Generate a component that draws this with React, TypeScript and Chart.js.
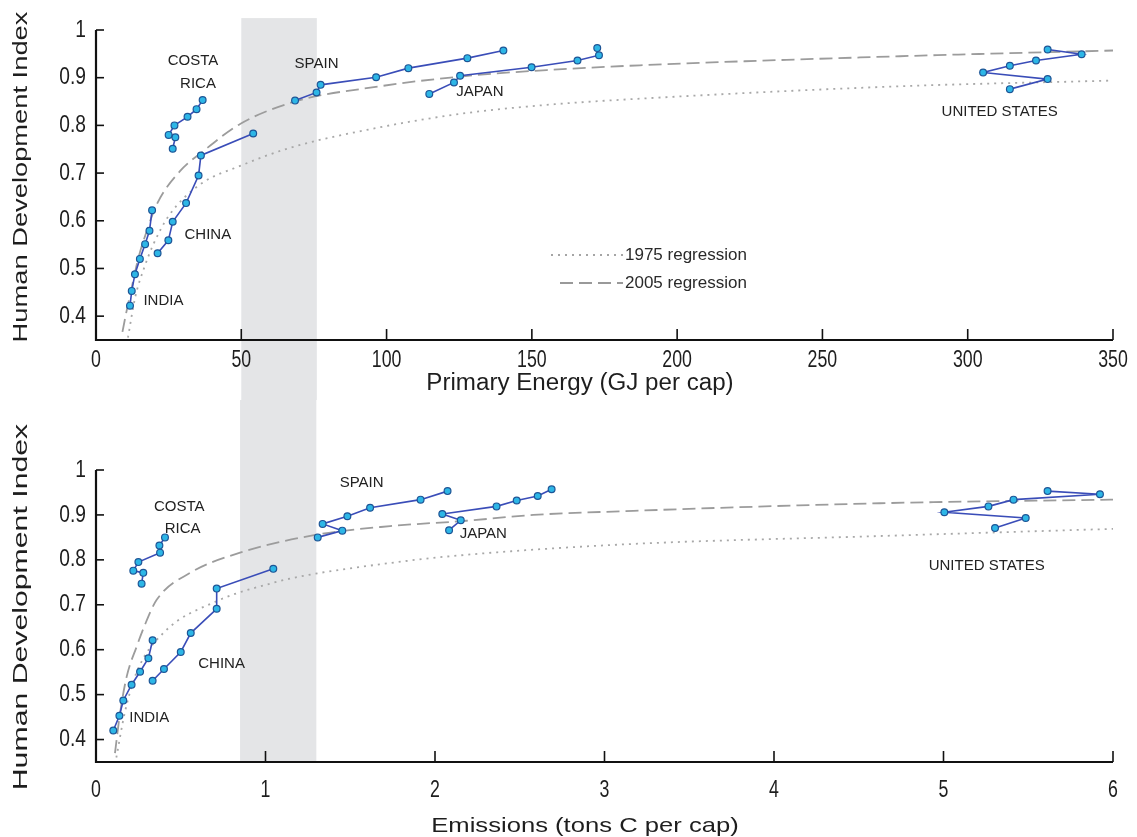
import React, { useEffect, useRef } from 'react';
import { Chart, registerables } from 'chart.js';

Chart.register(...registerables);

type Pt = [number, number];

// ---------- TOP PANEL: Primary energy (GJ per cap) vs HDI ----------
const indiaEnergy: Pt[] = [[11.7, 0.422], [12.3, 0.453], [13.4, 0.488], [15.1, 0.52], [16.9, 0.551], [18.4, 0.579], [19.3, 0.622]];
const chinaEnergy: Pt[] = [[21.2, 0.532], [24.9, 0.559], [26.4, 0.598], [31.0, 0.637], [35.3, 0.695], [36.1, 0.737], [54.1, 0.783]];
const costaRicaEnergy: Pt[] = [[26.4, 0.751], [27.3, 0.775], [25.0, 0.78], [27.0, 0.8], [31.5, 0.818], [34.6, 0.834], [36.7, 0.853]];
const spainEnergy: Pt[] = [[68.5, 0.852], [75.9, 0.869], [77.3, 0.885], [96.4, 0.901], [107.5, 0.92], [127.8, 0.941], [140.2, 0.957]];
const japanEnergy: Pt[] = [[114.7, 0.866], [123.2, 0.89], [125.3, 0.904], [149.9, 0.922], [165.7, 0.936], [173.1, 0.947], [172.5, 0.962]];
const usEnergy: Pt[] = [[314.5, 0.876], [327.5, 0.897], [305.3, 0.911], [314.5, 0.925], [323.5, 0.936], [339.2, 0.949], [327.5, 0.959]];

const reg1975Energy: Pt[] = [[11, 0.355], [13.5, 0.44], [16.5, 0.5], [19.7, 0.55], [25, 0.61], [35.8, 0.676], [49.6, 0.715], [66.8, 0.753], [97.7, 0.796], [126.4, 0.825], [155.1, 0.843], [187.2, 0.856], [276.7, 0.882], [350, 0.894]];
const reg2005Energy: Pt[] = [[9.1, 0.367], [10.5, 0.41], [12.3, 0.46], [14.5, 0.52], [17, 0.57], [20.9, 0.634], [28.9, 0.704], [36.9, 0.746], [49.6, 0.803], [68.5, 0.85], [97.7, 0.882], [126.4, 0.903], [155.1, 0.916], [187.2, 0.926], [276.7, 0.945], [350, 0.957]];

// ---------- BOTTOM PANEL: Emissions (tons C per cap) vs HDI ----------
const indiaCarbon: Pt[] = [[0.102, 0.42], [0.138, 0.453], [0.161, 0.487], [0.21, 0.522], [0.26, 0.551], [0.309, 0.581], [0.334, 0.621]];
const chinaCarbon: Pt[] = [[0.334, 0.531], [0.401, 0.557], [0.5, 0.595], [0.559, 0.637], [0.712, 0.691], [0.712, 0.736], [1.046, 0.78]];
const costaRicaCarbon: Pt[] = [[0.269, 0.747], [0.279, 0.771], [0.22, 0.776], [0.25, 0.795], [0.378, 0.816], [0.374, 0.832], [0.407, 0.85]];
const spainCarbon: Pt[] = [[1.308, 0.85], [1.453, 0.865], [1.337, 0.88], [1.483, 0.897], [1.617, 0.916], [1.915, 0.934], [2.074, 0.953]];
const japanCarbon: Pt[] = [[2.083, 0.866], [2.152, 0.888], [2.043, 0.902], [2.363, 0.919], [2.482, 0.932], [2.606, 0.942], [2.688, 0.957]];
const usCarbon: Pt[] = [[5.304, 0.871], [5.485, 0.893], [5.005, 0.906], [5.265, 0.919], [5.413, 0.934], [5.923, 0.946], [5.614, 0.953]];

const reg1975Carbon: Pt[] = [[0.12, 0.36], [0.17, 0.46], [0.24, 0.55], [0.397, 0.637], [0.712, 0.708], [1.046, 0.749], [1.204, 0.763], [1.735, 0.793], [2.088, 0.808], [3.091, 0.834], [4.625, 0.853], [6.0, 0.869]];
const reg2005Carbon: Pt[] = [[0.112, 0.37], [0.142, 0.459], [0.181, 0.54], [0.24, 0.607], [0.289, 0.656], [0.358, 0.711], [0.555, 0.771], [0.85, 0.816], [1.302, 0.856], [1.735, 0.875], [2.186, 0.887], [2.58, 0.9], [3.091, 0.908], [4.625, 0.926], [6.0, 0.934]];

// ---------- Axes / annotations ----------
const energyTicks = [0, 50, 100, 150, 200, 250, 300, 350];
const emissionTicks = [0, 1, 2, 3, 4, 5, 6];
const hdiTicks = [0.4, 0.5, 0.6, 0.7, 0.8, 0.9, 1];
const hdiTickLabels = ['0.4', '0.5', '0.6', '0.7', '0.8', '0.9', '1'];
const energyBand = [50, 76];
const emissionBand = [0.85, 1.3];

const countryNames = ['INDIA', 'CHINA', 'COSTA', 'RICA', 'SPAIN', 'JAPAN', 'UNITED STATES'];
const energyLabelX = [23.2, 38.5, 33.4, 35.1, 75.9, 132.1, 311.0];
const energyLabelY = [0.432, 0.571, 0.935, 0.887, 0.93, 0.871, 0.829];
const carbonLabelX = [0.314, 0.741, 0.491, 0.511, 1.567, 2.285, 5.255];
const carbonLabelY = [0.449, 0.569, 0.919, 0.869, 0.972, 0.857, 0.786];

const legendLabels = ['1975 regression', '2005 regression'];

const FONT = '"Liberation Sans", Arial, Helvetica, sans-serif';

function txt(
  ctx: CanvasRenderingContext2D,
  s: string,
  x: number,
  y: number,
  size: number,
  o: { sx?: number; align?: CanvasTextAlign; rot?: number; color?: string } = {}
) {
  ctx.save();
  ctx.translate(x, y);
  if (o.rot) ctx.rotate(o.rot);
  ctx.scale(o.sx ?? 1, 1);
  ctx.font = `${size}px ${FONT}`;
  ctx.fillStyle = o.color ?? '#1e1e1e';
  ctx.textAlign = o.align ?? 'center';
  ctx.textBaseline = 'middle';
  ctx.fillText(s, 0, 0);
  ctx.restore();
}

interface Panel {
  series: Pt[][];
  reg1975: Pt[];
  reg2005: Pt[];
  xMax: number;
  xTicks: number[];
  xTickLabels: string[];
  band: number[];
  bandTop?: number;
  bandToAxis: boolean;
  labelX: number[];
  labelY: number[];
  xTitle: string;
  xTitleAt: [number, number];
  xTitleSize: number;
  xTitleSx: number;
  yTitleAt: [number, number];
  yTitleSx: number;
  tickLabelOffset: number;
  legend: boolean;
  height: number;
  padding: { left: number; right: number; top: number; bottom: number };
}

function panelPlugin(p: Panel) {
  return {
    id: 'panelDecor',
    beforeDraw(chart: any) {
      const { ctx } = chart;
      const x = chart.scales.x;
      const y = chart.scales.y;
      const x0 = x.getPixelForValue(p.band[0]);
      const x1 = x.getPixelForValue(p.band[1]);
      const yTop = p.bandTop !== undefined ? y.getPixelForValue(p.bandTop) : 0;
      const yBot = p.bandToAxis ? y.getPixelForValue(y.min) : chart.height;
      ctx.save();
      ctx.fillStyle = '#fff';
      ctx.fillRect(0, 0, chart.width, chart.height);
      ctx.fillStyle = '#e4e5e7';
      ctx.fillRect(x0, yTop, x1 - x0, yBot - yTop);
      ctx.restore();
    },
    afterDraw(chart: any) {
      const { ctx } = chart;
      const x = chart.scales.x;
      const y = chart.scales.y;
      const L = x.getPixelForValue(x.min);
      const R = x.getPixelForValue(x.max);
      const B = y.getPixelForValue(y.min);
      const T = y.getPixelForValue(y.max);
      ctx.save();
      ctx.strokeStyle = '#111';
      ctx.lineWidth = 2.2;
      ctx.beginPath();
      ctx.moveTo(L, T);
      ctx.lineTo(L, B);
      ctx.lineTo(R, B);
      ctx.stroke();
      ctx.lineWidth = 1.6;
      hdiTicks.forEach((v) => {
        const py = y.getPixelForValue(v);
        ctx.beginPath();
        ctx.moveTo(L, py);
        ctx.lineTo(L + 8, py);
        ctx.stroke();
      });
      p.xTicks.forEach((v) => {
        const px = x.getPixelForValue(v);
        ctx.beginPath();
        ctx.moveTo(px, B);
        ctx.lineTo(px, B - 11);
        ctx.stroke();
      });
      ctx.restore();

      // tick labels
      hdiTicks.forEach((v, i) => {
        txt(ctx, hdiTickLabels[i], L - 10, y.getPixelForValue(v), 24, { sx: 0.8, align: 'right' });
      });
      p.xTicks.forEach((v, i) => {
        txt(ctx, p.xTickLabels[i], x.getPixelForValue(v), B + p.tickLabelOffset, 24, { sx: 0.74 });
      });

      // axis titles
      txt(ctx, p.xTitle, p.xTitleAt[0], p.xTitleAt[1], p.xTitleSize, { sx: p.xTitleSx });
      txt(ctx, 'Human Development Index', p.yTitleAt[0], p.yTitleAt[1], 21, { sx: p.yTitleSx, rot: -Math.PI / 2 });

      // country labels
      countryNames.forEach((name, i) => {
        txt(ctx, name, x.getPixelForValue(p.labelX[i]), y.getPixelForValue(p.labelY[i]), 15, { color: '#222' });
      });

      if (p.legend) {
        ctx.save();
        ctx.strokeStyle = '#a5a5a5';
        ctx.lineWidth = 1.8;
        ctx.setLineDash([2, 5]);
        ctx.beginPath();
        ctx.moveTo(551, 255);
        ctx.lineTo(623, 255);
        ctx.stroke();
        ctx.setLineDash([13, 6]);
        ctx.strokeStyle = '#999';
        ctx.beginPath();
        ctx.moveTo(560, 283);
        ctx.lineTo(623, 283);
        ctx.stroke();
        ctx.restore();
        txt(ctx, legendLabels[0], 625, 255, 17, { align: 'left', color: '#2a2a2a' });
        txt(ctx, legendLabels[1], 625, 283, 17, { align: 'left', color: '#2a2a2a' });
      }
    },
  };
}

function toXY(pts: Pt[]) {
  return pts.map(([x, y]) => ({ x, y }));
}

function buildConfig(p: Panel): any {
  const countryDatasets = p.series.map((s) => ({
    data: toXY(s),
    showLine: true,
    borderColor: '#3a4db8',
    borderWidth: 1.6,
    pointRadius: 3.4,
    pointBorderWidth: 1.2,
    pointBackgroundColor: '#2db6e6',
    pointBorderColor: '#1d5596',
    tension: 0,
    clip: false,
  }));
  return {
    type: 'scatter',
    data: {
      datasets: [
        ...countryDatasets,
        {
          data: toXY(p.reg2005),
          showLine: true,
          borderColor: '#9c9c9c',
          borderWidth: 1.8,
          borderDash: [13, 6],
          pointRadius: 0,
          cubicInterpolationMode: 'monotone',
          clip: false,
        },
        {
          data: toXY(p.reg1975),
          showLine: true,
          borderColor: '#a8a8a8',
          borderWidth: 1.8,
          borderDash: [2, 5],
          pointRadius: 0,
          cubicInterpolationMode: 'monotone',
          clip: false,
        },
      ],
    },
    options: {
      responsive: false,
      animation: false,
      events: [],
      layout: { padding: p.padding },
      plugins: { legend: { display: false }, tooltip: { enabled: false } },
      scales: {
        x: { type: 'linear', min: 0, max: p.xMax, display: false },
        y: { type: 'linear', min: 0.35, max: 1, display: false },
      },
    },
    plugins: [panelPlugin(p)],
  };
}

const topPanel: Panel = {
  series: [indiaEnergy, chinaEnergy, costaRicaEnergy, spainEnergy, japanEnergy, usEnergy],
  reg1975: reg1975Energy,
  reg2005: reg2005Energy,
  xMax: 350,
  xTicks: energyTicks,
  xTickLabels: energyTicks.map(String),
  band: energyBand,
  bandTop: 1.025,
  bandToAxis: false,
  labelX: energyLabelX,
  labelY: energyLabelY,
  xTitle: 'Primary Energy (GJ per cap)',
  xTitleAt: [580, 384],
  xTitleSize: 23,
  xTitleSx: 1.05,
  yTitleAt: [21, 177],
  yTitleSx: 1.3,
  tickLabelOffset: 20,
  legend: true,
  height: 400,
  padding: { left: 96, right: 24, top: 30, bottom: 60 },
};

const bottomPanel: Panel = {
  series: [indiaCarbon, chinaCarbon, costaRicaCarbon, spainCarbon, japanCarbon, usCarbon],
  reg1975: reg1975Carbon,
  reg2005: reg2005Carbon,
  xMax: 6,
  xTicks: emissionTicks,
  xTickLabels: emissionTicks.map(String),
  band: emissionBand,
  bandToAxis: true,
  labelX: carbonLabelX,
  labelY: carbonLabelY,
  xTitle: 'Emissions (tons C per cap)',
  xTitleAt: [585, 426],
  xTitleSize: 21,
  xTitleSx: 1.22,
  yTitleAt: [21, 207],
  yTitleSx: 1.44,
  tickLabelOffset: 28,
  legend: false,
  height: 437,
  padding: { left: 96, right: 24, top: 70, bottom: 75 },
};

function PanelChart({ panel }: { panel: Panel }) {
  const ref = useRef<HTMLCanvasElement | null>(null);
  useEffect(() => {
    if (!ref.current) return;
    const chart = new Chart(ref.current, buildConfig(panel));
    return () => chart.destroy();
  }, [panel]);
  return <canvas ref={ref} width={1137} height={panel.height} style={{ display: 'block', width: 1137, height: panel.height }} />;
}

export default function App() {
  return (
    <div style={{ position: 'absolute', left: 0, top: 0, width: 1137, height: 837, background: '#fff' }}>
      <PanelChart panel={topPanel} />
      <PanelChart panel={bottomPanel} />
    </div>
  );
}
